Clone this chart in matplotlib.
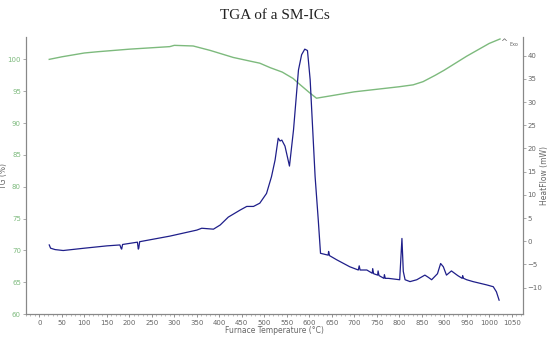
import matplotlib
matplotlib.use("Agg")
import matplotlib.pyplot as plt
from matplotlib.ticker import MultipleLocator

# TG curve (%)
tg_temp = [22, 50, 100, 130, 200, 290, 300, 342, 380, 431, 470, 490, 513, 540, 564,
           580, 600, 616, 650, 700, 750, 800, 831, 853, 880, 900, 950, 1000, 1024]
tg_val = [100.0, 100.4, 101.0, 101.2, 101.6, 102.0, 102.2, 102.1, 101.4, 100.3, 99.7,
          99.4, 98.7, 98.0, 97.0, 96.0, 94.8, 93.9, 94.3, 94.9, 95.3, 95.7, 96.0, 96.5,
          97.5, 98.3, 100.5, 102.5, 103.2]

# Heat flow curve (mW)
hf_temp = [22, 25, 35, 53, 100, 150, 179, 182, 183, 185, 218, 220, 221, 223, 290, 350, 361,
           387, 402, 420, 446, 461, 476, 490, 505, 516, 524, 531, 535, 539, 546, 556, 565,
           576, 583, 590, 596, 602, 613, 620, 625, 642, 643, 645, 661, 690, 709, 711, 713,
           728, 740, 741, 743, 752, 753, 755, 766, 767, 769, 776, 801, 804, 806, 809, 813,
           824, 839, 857, 865, 872, 885, 892, 898, 905, 916, 930, 940, 941, 943, 950, 964,
           994, 1009, 1016, 1022]
hf_val = [-0.8, -1.5, -1.8, -2.0, -1.5, -1.0, -0.8, -1.6, -1.7, -0.7, -0.2, -1.7, -1.5,
          -0.1, 1.1, 2.4, 2.8, 2.6, 3.5, 5.2, 6.7, 7.5, 7.5, 8.2, 10.3, 13.9, 17.5, 22.2,
          21.6, 21.8, 20.5, 16.2, 24.0, 36.9, 40.2, 41.4, 41.1, 34.8, 13.9, 4.6, -2.6,
          -3.0, -2.2, -3.1, -4.0, -5.5, -6.2, -5.3, -6.2, -6.2, -6.9, -5.9, -7.0, -7.3,
          -6.4, -7.4, -8.0, -7.2, -8.0, -8.0, -8.3, -3.0, 0.6, -6.5, -8.3, -8.7, -8.3,
          -7.3, -7.8, -8.3, -7.0, -4.8, -5.5, -7.3, -6.4, -7.4, -8.0, -7.4, -8.0, -8.3,
          -8.7, -9.4, -9.8, -10.9, -12.7]

x_ticks = list(range(0, 1051, 50))
tg_ticks = list(range(60, 101, 5))
hf_ticks = list(range(-10, 41, 5))

green = "#7dba7d"
navy = "#1f1f8a"
grey = "#666666"

fig = plt.figure(figsize=(5.5, 3.37), dpi=100)
ax = fig.add_axes([0.047, 0.068, 0.903, 0.822])
ax2 = ax.twinx()

ax.plot(tg_temp, tg_val, color=green, lw=1.0)
ax2.plot(hf_temp, hf_val, color=navy, lw=0.9)

ax.set_xlim(-30, 1074)
ax.set_ylim(60, 103.5)
ax2.set_ylim(-15.7, 44)

ax.set_xticks(x_ticks)
ax.xaxis.set_minor_locator(MultipleLocator(10))
ax.set_yticks(tg_ticks)
ax2.set_yticks(hf_ticks)

for a in (ax, ax2):
    a.spines["top"].set_visible(False)
    for s in a.spines.values():
        s.set_color("#888888")
        s.set_linewidth(0.8)

ax.tick_params(axis="x", labelsize=5, colors=grey, length=2, width=0.5, pad=2)
ax.tick_params(axis="x", which="minor", length=1.2, width=0.4, color="#888888")
ax.tick_params(axis="y", labelsize=5, labelcolor=green, color="#888888", length=2, width=0.5, pad=1.5)
ax2.tick_params(axis="y", labelsize=5, labelcolor=grey, color="#888888", length=2, width=0.5, pad=1.5)

ax.set_xlabel("Furnace Temperature (°C)", fontsize=5.5, color=grey, labelpad=0)
ax.set_ylabel("TG (%)", fontsize=5.5, color=grey)
ax2.set_ylabel("HeatFlow (mW)", fontsize=5.5, color=grey)
ax.yaxis.set_label_coords(-0.036, 0.5)
ax2.yaxis.set_label_coords(1.036, 0.5)

fig.text(0.5, 0.955, "TGA of a SM-ICs", ha="center", va="center",
         fontsize=11, family="Liberation Serif", color="#222222")
ax2.text(1033, 42.8, "^", fontsize=6, color=grey, ha="center", va="center")
ax2.text(1055, 42.3, "Exo", fontsize=3.5, color=grey, ha="center", va="center")

fig.savefig("out.png", dpi=100)
